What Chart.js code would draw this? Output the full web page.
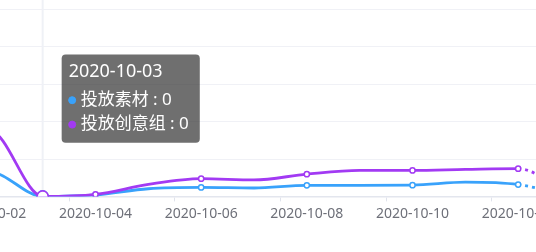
<!DOCTYPE html>
<html>
<head>
<meta charset="utf-8">
<script src="https://cdn.jsdelivr.net/npm/chart.js@4.4.0/dist/chart.umd.min.js"></script>
<style>
  html, body { margin: 0; padding: 0; background: #fff; overflow: hidden; }
  body { width: 536px; height: 252px; position: relative; }
  #wrap { position: absolute; left: -67px; top: -28.4px; width: 642px; height: 264.4px; }
</style>
</head>
<body>
<div id="wrap"><canvas id="c"></canvas></div>
<script>
// ---- data ----
const categories = ['2020-10-01','2020-10-02','2020-10-03','2020-10-04','2020-10-05','2020-10-06','2020-10-07',
                    '2020-10-08','2020-10-09','2020-10-10','2020-10-11','2020-10-12','2020-10-13'];
const seriesNames = ['投放素材', '投放创意组'];
const materialValues = [10, 13, 0, 0.8, 4.1, 4.8, 4.5, 5.9, 5.9, 6.0, 7.6, 6.3, 0];
const groupValues    = [28, 35, 0, 1.1, 6.4, 9.5, 8.8, 11.9, 13.9, 13.9, 14.4, 14.8, 0];
const yMin = 0, yMax = 120, yStep = 20;
const activeIndex = 2; // 2020-10-03

const BLUE = '#39a2fb';
const PURPLE = '#a23af3';
const FONT = '"Noto Sans", "Noto Sans CJK SC", sans-serif';

const showTick = (i) => {
  if (typeof i !== 'number' || !categories[i]) return false;
  return parseInt(categories[i].slice(-2), 10) % 2 === 0;
};
const lastIdx = categories.length - 1;

function makeDataset(label, data, color, order) {
  return {
    label, data, order,
    borderColor: color,
    backgroundColor: color,
    borderWidth: 2.8,
    cubicInterpolationMode: 'monotone',
    pointRadius: ctx => showTick(ctx.dataIndex) ? 2.6 : 0,
    pointBackgroundColor: '#fff',
    pointBorderColor: color,
    pointBorderWidth: 1.5,
    pointHoverRadius: 5.5,
    pointHoverBorderWidth: 1.6,
    pointHoverBackgroundColor: '#fff',
    pointHoverBorderColor: color,
    segment: {
      borderDash: ctx => ctx.p1DataIndex === lastIdx ? [3, 4] : undefined
    }
  };
}

Chart.Tooltip.positioners.custom = function (elements) {
  if (!elements.length) return false;
  const el = elements[0].element;
  return { x: el.x + 23, y: el.y - 142 };
};

const axisPointer = {
  id: 'axisPointer',
  beforeDatasetsDraw(chart) {
    const act = chart.getActiveElements ? chart.getActiveElements() : [];
    if (!act || !act.length) return;
    const x = act[0].element.x;
    const { top, bottom } = chart.chartArea;
    const ctx = chart.ctx;
    ctx.save();
    ctx.strokeStyle = '#eff1f6';
    ctx.lineWidth = 2;
    ctx.beginPath();
    ctx.moveTo(x, top);
    ctx.lineTo(x, bottom);
    ctx.stroke();
    ctx.restore();
  }
};

const chart = new Chart(document.getElementById('c'), {
  type: 'line',
  data: {
    labels: categories,
    datasets: [
      makeDataset(seriesNames[0], materialValues, BLUE, 1),
      makeDataset(seriesNames[1], groupValues, PURPLE, 0)
    ]
  },
  plugins: [axisPointer],
  options: {
    responsive: true,
    maintainAspectRatio: false,
    animation: false,
    events: [],
    layout: { padding: 0, autoPadding: false },
    interaction: { mode: 'index', intersect: false },
    plugins: {
      legend: { display: false },
      tooltip: {
        enabled: true,
        position: 'custom',
        mode: 'index',
        intersect: false,
        backgroundColor: 'rgba(50,50,50,0.7)',
        cornerRadius: 4,
        caretSize: 0,
        caretPadding: 0,
        xAlign: 'left',
        yAlign: 'top',
        padding: { left: 7, right: 11, top: 7, bottom: 8 },
        titleFont: { family: FONT, size: 18, weight: 'normal' },
        titleColor: '#fff',
        titleMarginBottom: 7,
        bodyFont: { family: FONT, size: 17 },
        bodyColor: '#fff',
        bodySpacing: 4,
        displayColors: true,
        usePointStyle: true,
        boxWidth: 7,
        boxHeight: 7,
        boxPadding: 3,
        multiKeyBackground: 'transparent',
        itemSort: (a, b) => a.datasetIndex - b.datasetIndex,
        callbacks: {
          label: c => `${c.dataset.label} : ${c.parsed.y}`,
          labelColor: c => ({ borderColor: c.dataset.borderColor, backgroundColor: c.dataset.borderColor, borderWidth: 0 }),
          labelPointStyle: () => ({ pointStyle: 'circle', rotation: 0 })
        }
      }
    },
    scales: {
      x: {
        type: 'category',
        offset: false,
        grid: {
          display: true,
          offset: true,
          drawOnChartArea: false,
          drawTicks: true,
          tickLength: 5,
          tickColor: ctx => showTick(ctx.index) ? '#e0e3ec' : 'rgba(0,0,0,0)',
        },
        border: { display: true, color: '#e3e6ee', width: 1.5 },
        ticks: {
          autoSkip: false,
          maxRotation: 0,
          minRotation: 0,
          padding: 4,
          color: '#6e7079',
          font: { family: FONT, size: 14 },
          callback: function (v, i) { return showTick(i) ? categories[i] : ''; }
        },
        afterFit(scale) { scale.height = 40; }
      },
      y: {
        min: yMin, max: yMax,
        ticks: { display: false, stepSize: yStep },
        grid: { color: '#f0f1f6', lineWidth: 1, drawTicks: false },
        border: { display: false }
      }
    }
  }
});

const els = [{ datasetIndex: 0, index: activeIndex }, { datasetIndex: 1, index: activeIndex }];
chart.setActiveElements(els);
chart.tooltip.setActiveElements(els, { x: 0, y: 0 });
chart.update();
</script>
</body>
</html>
